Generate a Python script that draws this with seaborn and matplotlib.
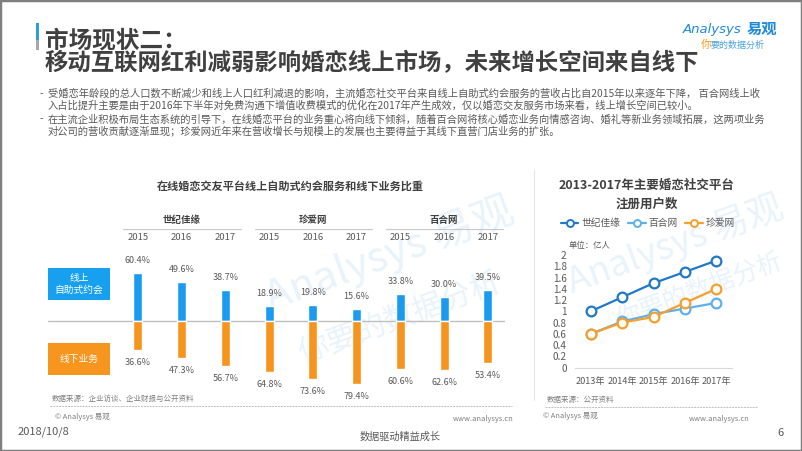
import matplotlib
matplotlib.use("Agg")
import matplotlib.pyplot as plt
import matplotlib.transforms as mtransforms
from matplotlib.patches import Rectangle
from matplotlib.lines import Line2D
import seaborn as sns
import pandas as pd
import numpy as np

sns.set_theme(style="white")
plt.rcParams['font.family'] = ['Noto Sans CJK SC', 'DejaVu Sans']
plt.rcParams['axes.unicode_minus'] = False

# ---------------- data ----------------
companies = ["世纪佳缘", "珍爱网", "百合网"]
bar_years = ["2015", "2016", "2017"]
online_share = [60.4, 49.6, 38.7, 18.9, 19.8, 15.6, 33.8, 30.0, 39.5]
offline_share = [36.6, 47.3, 56.7, 64.8, 73.6, 79.4, 60.6, 62.6, 53.4]

line_years = [2013, 2014, 2015, 2016, 2017]
line_names = ["世纪佳缘", "百合网", "珍爱网"]
users_shijijiayuan = [1.0, 1.25, 1.5, 1.7, 1.9]
users_baihe = [0.6, 0.82, 0.95, 1.05, 1.15]
users_zhenai = [0.6, 0.8, 0.9, 1.15, 1.4]
y_ticks = [0, 0.2, 0.4, 0.6, 0.8, 1, 1.2, 1.4, 1.6, 1.8, 2]
y_tick_labels = ["0", "0.2", "0.4", "0.6", "0.8", "1", "1.2", "1.4", "1.6", "1.8", "2"]

bullet_lines = [
    "受婚恋年龄段的总人口数不断减少和线上人口红利减退的影响，主流婚恋社交平台来自线上自助式约会服务的营收占比自2015年以来逐年下降， 百合网线上收",
    "入占比提升主要是由于2016年下半年对免费沟通下增值收费模式的优化在2017年产生成效，仅以婚恋交友服务市场来看，线上增长空间已较小。",
    "在主流企业积极布局生态系统的引导下，在线婚恋平台的业务重心将向线下倾斜，随着百合网将核心婚恋业务向情感咨询、婚礼等新业务领域拓展，这两项业务",
    "对公司的营收贡献逐渐显现；珍爱网近年来在营收增长与规模上的发展也主要得益于其线下直营门店业务的扩张。",
]

# ---------------- colours ----------------
BLUE = "#1A9BEF"
ORANGE = "#F7941D"
DARK = "#404040"
GRAY = "#595959"
LIGHT = "#7F7F7F"
line_colors = {"世纪佳缘": "#1F78C8", "百合网": "#5DB0EC", "珍爱网": "#F5A02A"}

W, H = 802, 451
fig = plt.figure(figsize=(W / 100, H / 100), dpi=100)
fig.patch.set_facecolor("white")


def fx(x):
    return x / W


def fy(y):
    return 1 - y / H


def rect(x0, y0, x1, y1):
    return [x0 / W, 1 - y1 / H, (x1 - x0) / W, (y1 - y0) / H]


# ---------------- watermark (behind everything) ----------------
for (wx, wy, txt, fs) in [(390, 255, "Analysys 易观", 30), (400, 318, "你要的数据分析", 22),
                          (675, 245, "Analysys 易观", 26), (700, 290, "你要的数据分析", 18)]:
    fig.text(fx(wx), fy(wy), txt, fontsize=fs, color="#E8F3FC", rotation=20,
             ha="center", va="center", zorder=-5)

# ---------------- header ----------------
fig.patches.append(Rectangle((fx(36), fy(40)), 3 / W, 17 / H, transform=fig.transFigure,
                             facecolor="#2E9AE8", edgecolor="none"))
fig.patches.append(Rectangle((fx(36), fy(50)), 3 / W, 10 / H, transform=fig.transFigure,
                             facecolor="#A8A8A8", edgecolor="none"))
fig.text(fx(45), fy(40), "市场现状二：", fontsize=17, fontweight="bold", color=DARK, va="center", ha="left")
fig.text(fx(45), fy(63), "移动互联网红利减弱影响婚恋线上市场，未来增长空间来自线下", fontsize=16.8,
         fontweight="bold", color=DARK, va="center", ha="left")

# logo
fig.text(fx(741), fy(29), "Analysys", fontsize=9.5, style="italic", color="#1E88D8", ha="right", va="center",
         family=["DejaVu Sans"])
fig.text(fx(747), fy(29), "易观", fontsize=11, fontweight="bold", color="#1E88D8", ha="left", va="center")
fig.text(fx(701), fy(45), "你", fontsize=8, color="#F39A1E", ha="left", va="center")
fig.text(fx(711), fy(45), "要的数据分析", fontsize=6.5, style="italic", color="#4AA3E0", ha="left", va="center")

# bullets
for i, ln in enumerate(bullet_lines):
    yy = [94, 106, 119, 131][i]
    if i in (0, 2):
        fig.text(fx(40), fy(yy), "-", fontsize=7.4, color=GRAY, va="center", ha="left")
    fig.text(fx(48), fy(yy), ln, fontsize=7.4, color=GRAY, va="center", ha="left")

# ---------------- left chart: bars ----------------
cats = [f"{c} {y}" for c in companies for y in bar_years]
df_bars = pd.DataFrame({"cat": cats, "online": online_share,
                        "offline": [-v for v in offline_share]})

fig.text(fx(290), fy(186), "在线婚恋交友平台线上自助式约会服务和线下业务比重", fontsize=8, fontweight="bold",
         color=DARK, ha="center", va="center")

ax1 = fig.add_axes(rect(48, 245, 505, 395))
sns.barplot(data=df_bars, x="cat", y="online", order=cats, color=BLUE, saturation=1, width=0.205,
            errorbar=None, ax=ax1)
sns.barplot(data=df_bars, x="cat", y="offline", order=cats, color=ORANGE, saturation=1, width=0.205,
            errorbar=None, ax=ax1)
ax1.set_xlim(-2.05, 8.39)
ax1.set_ylim(-93.7, 96.2)
ax1.axhline(0, color="#BFBFBF", lw=1, zorder=0.5)
ax1.set_axis_off()

for i, (on, off) in enumerate(zip(online_share, offline_share)):
    ax1.annotate(f"{on:.1f}%", (i, on), xytext=(0, 9), textcoords="offset points", ha="center",
                 va="center", fontsize=6.5, color=GRAY)
    ax1.annotate(f"{off:.1f}%", (i, -off), xytext=(0, -9), textcoords="offset points", ha="center",
                 va="center", fontsize=6.5, color=GRAY)

trans = mtransforms.blended_transform_factory(ax1.transData, fig.transFigure)
for g, comp in enumerate(companies):
    i0 = g * 3
    ax1.text(i0 + 1, fy(220), comp, transform=trans, ha="center", va="center", fontsize=6.8,
             fontweight="bold", color=DARK)
    ax1.plot([i0 - 0.33, i0 + 2.35], [fy(229), fy(229)], transform=trans, color="#C8C8C8", lw=0.8,
             clip_on=False)
    for k, yr in enumerate(bar_years):
        ax1.text(i0 + k, fy(238), yr, transform=trans, ha="center", va="center", fontsize=6.8, color=GRAY)

# legend boxes
fig.patches.append(Rectangle((fx(48), fy(300)), 62 / W, 32 / H, transform=fig.transFigure,
                             facecolor="#17A0F0", edgecolor="none"))
fig.text(fx(79), fy(284), "线上\n自助式约会", fontsize=7, color="white", ha="center", va="center",
         linespacing=1.2)
fig.patches.append(Rectangle((fx(48), fy(375)), 62 / W, 32 / H, transform=fig.transFigure,
                             facecolor="#F6961E", edgecolor="none"))
fig.text(fx(79), fy(359), "线下业务", fontsize=7, color="white", ha="center", va="center")

fig.text(fx(52), fy(399), "数据来源：企业访谈、企业财报与公开资料", fontsize=5.4, color=LIGHT, ha="left", va="center")
fig.add_artist(Line2D([fx(50), fx(512)], [fy(406), fy(406)], transform=fig.transFigure, color="#BFBFBF",
                      lw=0.7, ls=(0, (2, 1))))
fig.text(fx(55), fy(417), "© Analysys 易观", fontsize=5.4, color=LIGHT, ha="left", va="center")
fig.text(fx(514), fy(419), "www.analysys.cn", fontsize=5.4, color=LIGHT, ha="right", va="center")

# separator
fig.add_artist(Line2D([fx(534), fx(534)], [fy(170), fy(400)], transform=fig.transFigure, color="#E6E6E6",
                      lw=0.8))

# ---------------- right chart: lines ----------------
fig.text(fx(647), fy(185), "2013-2017年主要婚恋社交平台", fontsize=9, fontweight="bold", color=DARK,
         ha="center", va="center")
fig.text(fx(647), fy(204), "注册用户数", fontsize=9, fontweight="bold", color=DARK, ha="center", va="center")

df_lines = pd.DataFrame({
    "year": line_years * 3,
    "users": users_shijijiayuan + users_baihe + users_zhenai,
    "platform": [n for n in line_names for _ in line_years],
})

ax2 = fig.add_axes(rect(575, 255, 732, 367.7))
for name in line_names:
    sub = df_lines[df_lines["platform"] == name]
    sns.lineplot(data=sub, x="year", y="users", color=line_colors[name], marker="o", markersize=7,
                 markerfacecolor="white", markeredgecolor=line_colors[name], markeredgewidth=1.6,
                 linewidth=1.6, ax=ax2, legend=False, clip_on=False)
ax2.set_xlim(2012.5, 2017.5)
ax2.set_ylim(0, 2)
ax2.set_yticks(y_ticks)
ax2.set_yticklabels(y_tick_labels)
ax2.set_xticks(line_years)
ax2.set_xticklabels([f"{y}年" for y in line_years])
ax2.set_xlabel("")
ax2.set_ylabel("")
ax2.set_facecolor("none")
for s in ("top", "right", "left"):
    ax2.spines[s].set_visible(False)
ax2.spines["bottom"].set_color("#D9D9D9")
ax2.spines["bottom"].set_linewidth(0.8)
ax2.tick_params(axis="y", length=0, labelsize=7.2, colors=GRAY, pad=6)
ax2.tick_params(axis="x", length=0, labelsize=6.6, colors=GRAY, pad=7)

fig.text(fx(569), fy(246), "单位：亿人", fontsize=6, color=GRAY, ha="left", va="center")

handles = [Line2D([], [], color=line_colors[n], marker="o", markersize=5, markerfacecolor="white",
                  markeredgecolor=line_colors[n], markeredgewidth=1.4, lw=1.6) for n in line_names]
leg = fig.legend(handles, line_names, loc="center", bbox_to_anchor=(fx(648), fy(223)), ncol=3, frameon=False,
                 fontsize=7, handlelength=1.8, columnspacing=0.8, handletextpad=0.3)
for t in leg.get_texts():
    t.set_color(GRAY)

fig.text(fx(547), fy(400), "数据来源：公开资料", fontsize=5.4, color=LIGHT, ha="left", va="center")
fig.add_artist(Line2D([fx(545), fx(757)], [fy(406.5), fy(406.5)], transform=fig.transFigure,
                      color="#BFBFBF", lw=0.7, ls=(0, (2, 1))))
fig.text(fx(543), fy(416), "© Analysys 易观", fontsize=5.4, color=LIGHT, ha="left", va="center")
fig.text(fx(750), fy(419), "www.analysys.cn", fontsize=5.4, color=LIGHT, ha="right", va="center")

# ---------------- footer ----------------
fig.text(fx(18), fy(432), "2018/10/8", fontsize=8, color=GRAY, ha="left", va="center")
fig.text(fx(400), fy(437), "数据驱动精益成长", fontsize=7.3, color=GRAY, ha="center", va="center")
fig.text(fx(780), fy(433), "6", fontsize=8, color=GRAY, ha="center", va="center")

fig.patches.append(Rectangle((0, 0), 1, 1, transform=fig.transFigure, fill=False, edgecolor="#7F7F7F", lw=2.5))

fig.savefig("out.png", dpi=100)
